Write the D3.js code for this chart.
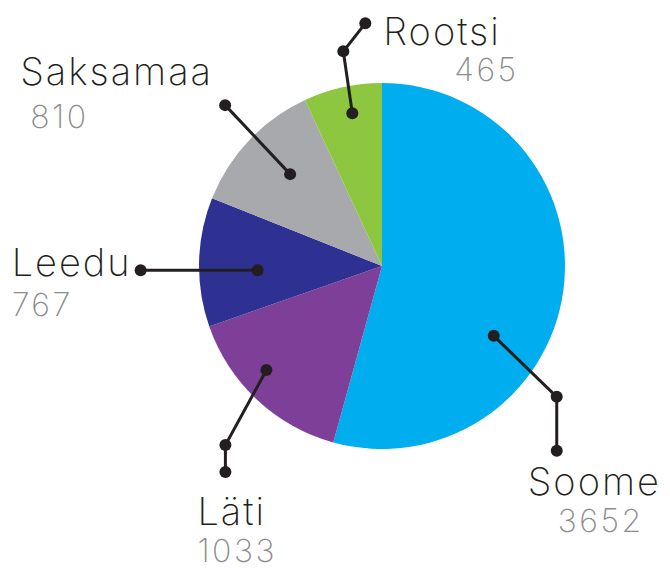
<!DOCTYPE html>
<html>
<head>
<meta charset="utf-8">
<script src="https://cdn.jsdelivr.net/npm/d3@7"></script>
<style>
  body { margin: 0; background: #fff; }
  .lbl { font-family: Inter, Lato, sans-serif; font-weight: 200; fill: #231f20; }
  .num { font-family: Inter, Lato, sans-serif; font-weight: 200; fill: #8c8c8c; }
</style>
</head>
<body>
<div id="chart"></div>
<script>
// data
var countries = ["Soome", "Läti", "Leedu", "Saksamaa", "Rootsi"];
var amounts = [3652, 1033, 767, 810, 465];
var colors = ["#00aeef", "#7e3f98", "#2e3192", "#a7a9ac", "#8dc63f"];

// leader layout: anchor inside slice (deg, radius share), then segment steps, then text offsets
var anchorAngle = [122, 228, 268, 315, 349];
var anchorRadius = [0.72, 0.85, 0.68, 0.71, 0.85];
var steps = [
    [[63, 61], [0, 54]],
    [[-41, 75], [0, 27]],
    [[-117, 0]],
    [[-65, -69]],
    [[-9, -62], [22, -28]]
];
var labelOffset = [[-29, 44], [-28, 53], [-129, 6], [-205, -20], [18, 22]];
var numberOffset = [[1, 81], [-28, 90], [-129, 46], [-195, 23], [89, 58]];

var width = 670, height = 568;
var cx = 382, cy = 266, radius = 183;

var svg = d3.select("#chart").append("svg")
    .attr("width", width)
    .attr("height", height);

var g = svg.append("g")
    .attr("transform", "translate(" + cx + "," + cy + ")");

var dataset = countries.map(function(c, i) { return {name: c, value: amounts[i], idx: i}; });

var pie = d3.pie()
    .sort(null)
    .value(function(d) { return d.value; });

var arc = d3.arc()
    .innerRadius(0)
    .outerRadius(radius);

g.selectAll(".slice")
    .data(pie(dataset))
    .enter().append("path")
    .attr("class", "slice")
    .attr("d", arc)
    .attr("fill", function(d) { return colors[d.data.idx]; });

// leaders
dataset.forEach(function(d, i) {
    var p = d3.pointRadial(anchorAngle[i] * Math.PI / 180, anchorRadius[i] * radius);
    var pts = [p];
    steps[i].forEach(function(s) {
        var last = pts[pts.length - 1];
        pts.push([last[0] + s[0], last[1] + s[1]]);
    });

    g.append("path")
        .attr("d", d3.line()(pts))
        .attr("fill", "none")
        .attr("stroke", "#231f20")
        .attr("stroke-width", 3);

    g.selectAll(".dot" + i)
        .data(pts)
        .enter().append("circle")
        .attr("cx", function(q) { return q[0]; })
        .attr("cy", function(q) { return q[1]; })
        .attr("r", 6)
        .attr("fill", "#231f20");

    var end = pts[pts.length - 1];
    g.append("text")
        .attr("class", "lbl")
        .attr("x", end[0] + labelOffset[i][0])
        .attr("y", end[1] + labelOffset[i][1])
        .style("font-size", "38px")
        .style("letter-spacing", "2px")
        .text(d.name);

    g.append("text")
        .attr("class", "num")
        .attr("x", end[0] + numberOffset[i][0])
        .attr("y", end[1] + numberOffset[i][1])
        .style("font-size", "32px")
        .style("letter-spacing", "2.5px")
        .text(d.value);
});
</script>
</body>
</html>
